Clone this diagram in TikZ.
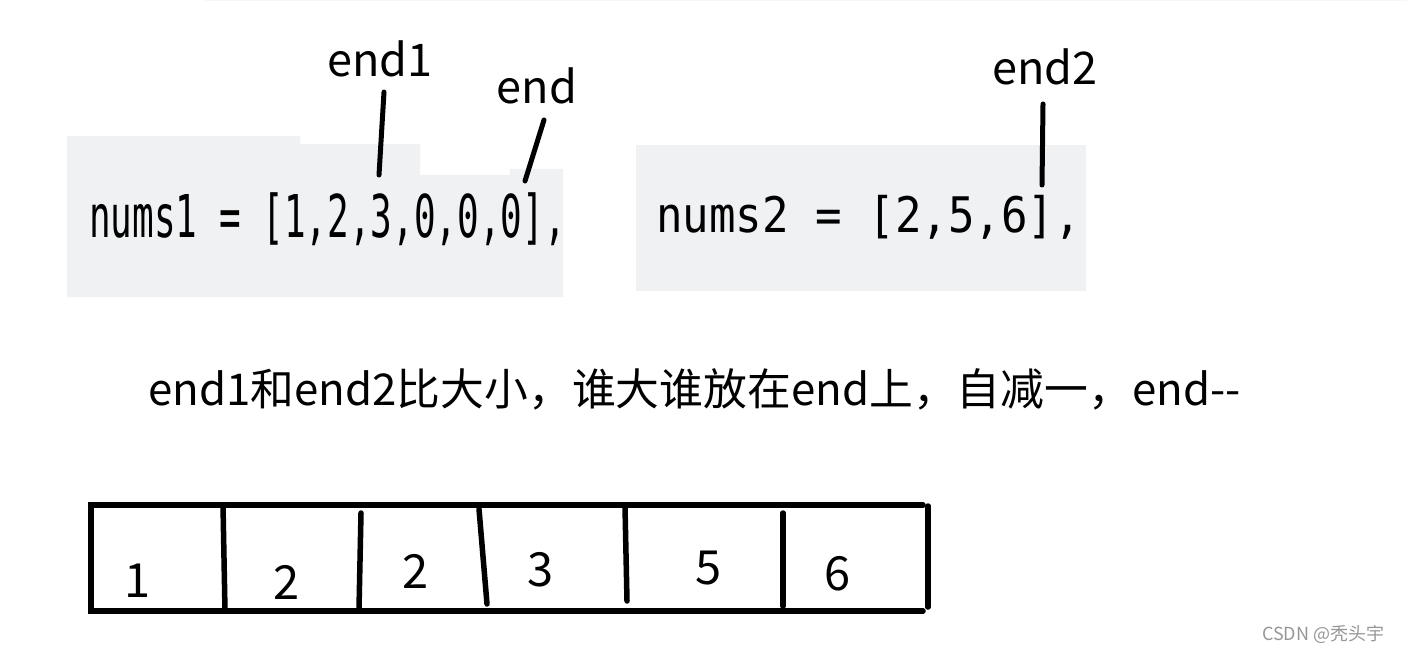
\documentclass[tikz,border=0pt]{standalone}
\usepackage{fontspec}
\setmainfont{Noto Sans CJK SC}
\newfontfamily\codewide{DejaVu Sans Mono}[FakeStretch=0.9]
\newfontfamily\codenarrow{DejaVu Sans Mono}[FakeStretch=0.61]
\definecolor{codebg}{RGB}{240,241,243}
\definecolor{marktext}{RGB}{150,150,150}

\begin{document}
\begin{tikzpicture}
		[x=1pt, y=-1pt,
		label/.style ={inner sep=0, anchor=base, font=\fontsize{45}{45}\selectfont},
		codeA/.style ={inner sep=0, anchor=base west, font=\codenarrow\fontsize{59}{59}\selectfont},
		codeB/.style ={inner sep=0, anchor=base west, font=\codewide\fontsize{49}{49}\selectfont},
		note/.style ={inner sep=0, anchor=base west, font=\fontsize{43.8}{44}\selectfont},
		cellnum/.style ={inner sep=0, anchor=base, font=\fontsize{47}{47}\selectfont},
		pointer/.style ={draw, line width=5pt, line cap=round},
		bar/.style ={draw, line width=5.5pt, line cap=round},
		]
		\useasboundingbox (0,0) rectangle (1407,652);
		\draw[codebg!60, line width=1pt] (205,0.5) -- (1407,0.5);

		\fill[codebg] (67,136) -- (300,136) -- (300,144) -- (420,144) -- (420,175)
			-- (510,175) -- (510,169) -- (563,169) -- (563,297) -- (67,297) -- cycle;
		\fill[codebg] (636,145) rectangle (1086,291);

		\draw (89,237) node[codeA] (N1) {nums1 = [1,2,3,0,0,0],};
		\draw (656,233) node[codeB] (N2) {nums2 = [2,5,6],};

		\draw (380,77) node[label] (E1) {end1};
		\draw (537,104) node[label] (E) {end};
		\draw (1045,85) node[label] (E2) {end2};

		\coordinate (E1from) at (384,92);
		\coordinate (E1to) at (379,175);
		\coordinate (Efrom) at (544,120);
		\coordinate (Eto) at (525,181);
		\coordinate (E2from) at (1043,104);
		\coordinate (E2to) at (1042,185);

		\path[pointer]
		(E1from) edge (E1to)
		(Efrom) edge (Eto)
		(E2from) edge (E2to);

		\draw (148,405) node[note] (T) {end1和end2比大小，谁大谁放在end上，自减一，end-{}-};

		\draw[bar] (923,505) -- (91,505) -- (91,611) -- (923,611);
		\draw[bar] (928,506) -- (928,607);
		\draw[bar] (223,505) -- (225,611);
		\draw[bar] (361,513) -- (359,609);
		\draw[bar] (479,509) -- (487,604);
		\draw[bar] (625,507) -- (627,601);
		\draw[bar] (783,513) -- (783,606);

		\draw (138,597) node[cellnum] (C1) {1};
		\draw (287,599) node[cellnum] (C2) {2};
		\draw (416,588) node[cellnum] (C3) {2};
		\draw (541,586) node[cellnum] (C4) {3};
		\draw (709,584) node[cellnum] (C5) {5};
		\draw (838,590) node[cellnum] (C6) {6};

		\draw (1262,640) node[inner sep=0, anchor=base west, text=marktext, font=\fontsize{18}{18}\selectfont] (W) {CSDN @秃头宇};

	\end{tikzpicture}
\end{document}
